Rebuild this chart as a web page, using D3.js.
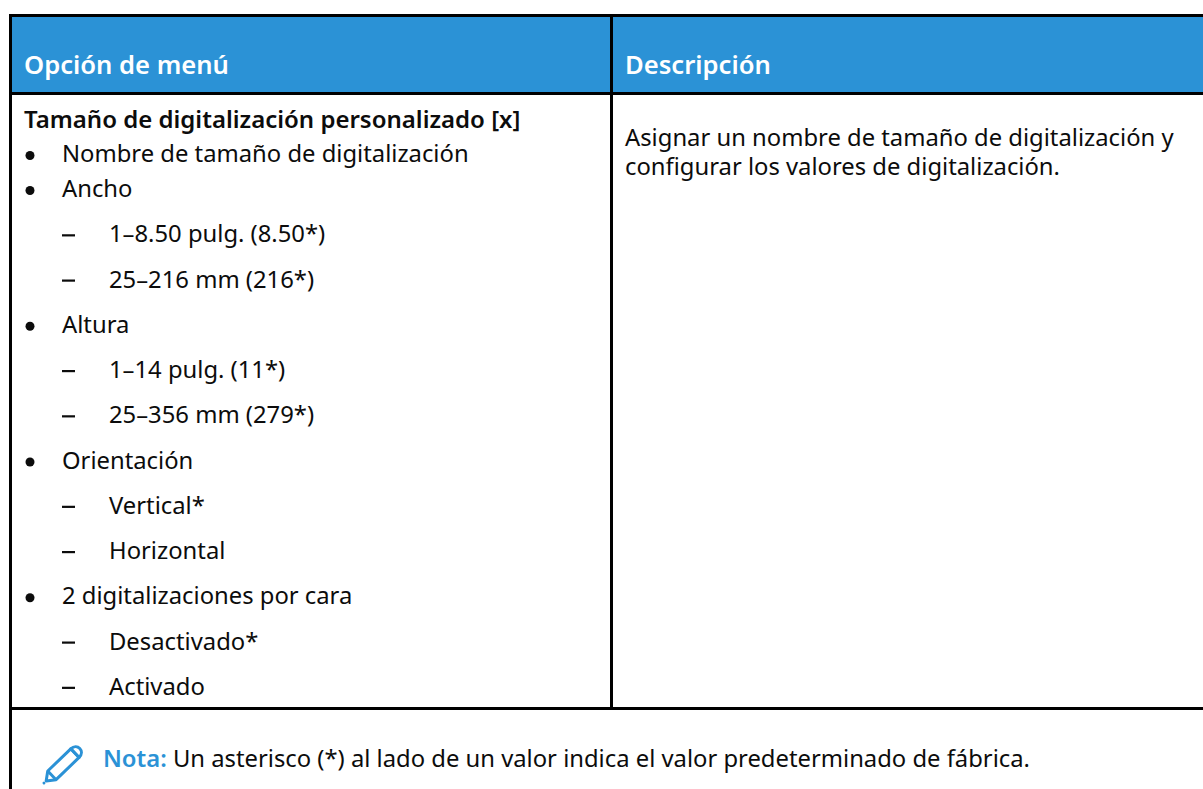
<!DOCTYPE html>
<html>
<head>
<meta charset="utf-8">
<script src="https://cdn.jsdelivr.net/npm/d3@7"></script>
<style>
  html, body { margin: 0; padding: 0; background: #fff; }
  svg { display: block; }
  text { font-family: "Noto Sans", sans-serif; }
</style>
</head>
<body>
<div id="chart"></div>
<script>
const headers = ["Opción de menú", "Descripción"];
const title = "Tamaño de digitalización personalizado [x]";
const optionLabels = [
    "Nombre de tamaño de digitalización", "Ancho", "1–8.50 pulg. (8.50*)", "25–216 mm (216*)",
    "Altura", "1–14 pulg. (11*)", "25–356 mm (279*)", "Orientación", "Vertical*", "Horizontal",
    "2 digitalizaciones por cara", "Desactivado*", "Activado"
];
const optionLevels = [1, 1, 2, 2, 1, 2, 2, 1, 2, 2, 1, 2, 2];
const descriptionLines = ["Asignar un nombre de tamaño de digitalización y", "configurar los valores de digitalización."];
const noteLabel = "Nota:";
const noteText = " Un asterisco (*) al lado de un valor indica el valor predeterminado de fábrica.";

const width = 1203, height = 789;
const blue = "#2b92d6", ink = "#0c0c0c";
const fontSize = 23.8;

const svg = d3.select("#chart").append("svg")
    .attr("width", width)
    .attr("height", height);

// header band
svg.append("rect").attr("x", 10).attr("y", 16).attr("width", width - 10).attr("height", 77).attr("fill", blue);

// table rules
const rules = [
    [9, 15.5, width, 15.5], [9, 93.5, width, 93.5], [9, 708.5, width, 708.5],
    [10.5, 14, 10.5, height], [611.5, 14, 611.5, 708]
];
svg.selectAll("line.rule").data(rules).join("line")
    .attr("class", "rule")
    .attr("x1", d => d[0]).attr("y1", d => d[1])
    .attr("x2", d => d[2]).attr("y2", d => d[3])
    .attr("stroke", "#000").attr("stroke-width", 3);

svg.selectAll("text.head").data(headers).join("text")
    .attr("class", "head")
    .attr("x", (d, i) => i ? 625 : 24)
    .attr("y", 74)
    .attr("fill", "#fff")
    .attr("font-size", 25.6)
    .attr("font-weight", 600)
    .text(d => d);

svg.append("text").attr("x", 24).attr("y", 128)
    .attr("fill", ink).attr("font-size", 24).attr("font-weight", 600).text(title);

// first two rows sit tighter than the others
const rowY = i => i === 0 ? 162 : 197 + (i - 1) * 45.25;

const rows = svg.selectAll("g.row").data(optionLabels).join("g")
    .attr("class", "row")
    .attr("transform", (d, i) => "translate(0," + rowY(i) + ")");

rows.filter((d, i) => optionLevels[i] === 1).append("circle")
    .attr("cx", 30).attr("cy", -6.5).attr("r", 4.5).attr("fill", ink);
rows.filter((d, i) => optionLevels[i] === 2).append("rect")
    .attr("x", 62).attr("y", -8).attr("width", 13).attr("height", 2.2).attr("fill", ink);
rows.append("text")
    .attr("x", (d, i) => optionLevels[i] === 1 ? 62 : 109)
    .attr("fill", ink).attr("font-size", fontSize)
    .text(d => d);

svg.selectAll("text.desc").data(descriptionLines).join("text")
    .attr("class", "desc")
    .attr("x", 625)
    .attr("y", (d, i) => 146 + i * 29)
    .attr("fill", ink).attr("font-size", fontSize)
    .text(d => d);

// note line
const note = svg.append("text").attr("x", 103).attr("y", 767).attr("font-size", fontSize).attr("fill", ink);
note.append("tspan").attr("fill", blue).attr("font-weight", 600).text(noteLabel);
note.append("tspan").text(noteText);

// pencil icon
const pencil = svg.append("g").attr("transform", "translate(44,783) rotate(-44)")
    .attr("fill", "none").attr("stroke", blue).attr("stroke-width", 3).attr("stroke-linejoin", "round");
pencil.append("path").attr("d", "M3,0 L11,-6 H43 V6 H11 Z");
pencil.append("path").attr("d", "M11,-6 V6");
pencil.append("path").attr("d", "M43,-6 C52,-6 52,6 43,6 Z");
pencil.append("circle").attr("cx", 0).attr("cy", 0).attr("r", 1.5).attr("fill", blue).attr("stroke", "none");
</script>
</body>
</html>
